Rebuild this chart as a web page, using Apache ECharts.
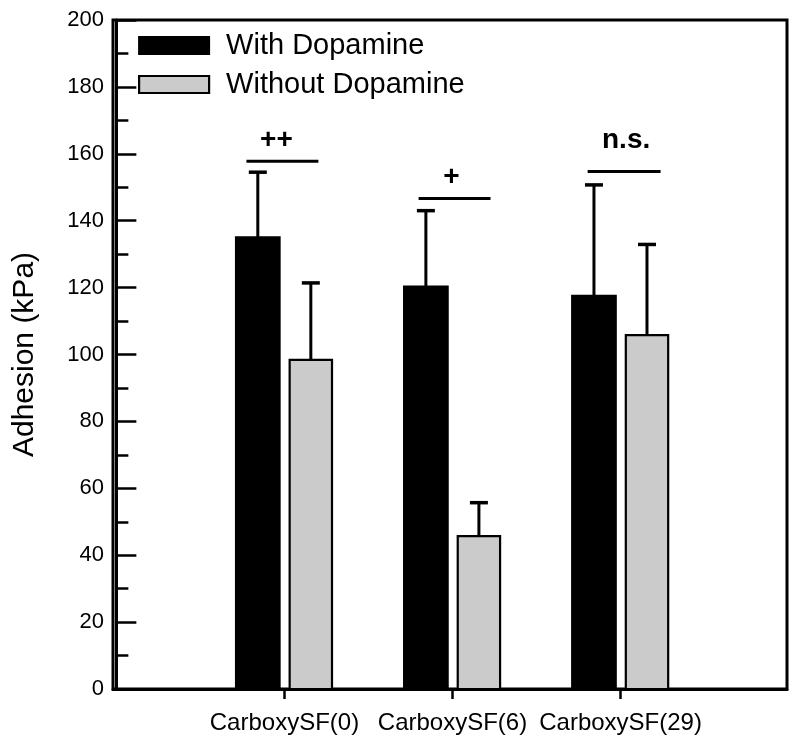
<!DOCTYPE html>
<html>
<head>
<meta charset="utf-8">
<script src="https://cdn.jsdelivr.net/npm/echarts@6/dist/echarts.min.js"></script>
<style>
  html, body { margin: 0; padding: 0; background: #fff; }
  #chart { width: 800px; height: 749px; }
</style>
</head>
<body>
<div id="chart"></div>
<script>
// ---- data ----
const categories = ['CarboxySF(0)', 'CarboxySF(6)', 'CarboxySF(29)'];
const withDopamine = [135.0, 120.3, 117.5];
const withDopamineSD = [19.5, 22.7, 33.2];
const withoutDopamine = [98.4, 45.7, 105.8];
const withoutDopamineSD = [23.0, 10.0, 27.1];
const sigLabels = ['++', '+', 'n.s.'];
const sigHeights = [157.8, 146.6, 154.7];

// ---- layout (not data) ----
const withSpan = [-0.288, -0.029];
const withoutSpan = [0.031, 0.283];
const sigSpans = [[-0.226, 0.202], [-0.202, 0.226], [-0.196, 0.238]];
const sigLabelDx = [-6, -3, 2];
const sigLabelDy = [-21, -21, -31];
const FONT = '"Liberation Sans", Arial, sans-serif';

function barRenderer(span, fill) {
  return function (params, api) {
    const x = api.value(0), v = api.value(1), sd = api.value(2);
    const pL = api.coord([x + span[0], v]);
    const pR = api.coord([x + span[1], 0]);
    const top = pL[1], base = pR[1];
    const cx = (pL[0] + pR[0]) / 2;
    const errTop = api.coord([x, v + sd])[1];
    return {
      type: 'group',
      children: [
        { type: 'line', shape: { x1: cx, y1: top, x2: cx, y2: errTop }, style: { stroke: '#000', lineWidth: 3 } },
        { type: 'line', shape: { x1: cx - 9, y1: errTop, x2: cx + 9, y2: errTop }, style: { stroke: '#000', lineWidth: 3.5 } },
        { type: 'rect', shape: { x: pL[0], y: top, width: pR[0] - pL[0], height: base - top },
          style: { fill: fill, stroke: '#000', lineWidth: 2.2 } }
      ]
    };
  };
}

function sigRenderer(params, api) {
  const i = params.dataIndex;
  const x = api.value(0), h = api.value(1);
  const p1 = api.coord([x + sigSpans[i][0], h]);
  const p2 = api.coord([x + sigSpans[i][1], h]);
  const cx = (p1[0] + p2[0]) / 2;
  return {
    type: 'group',
    children: [
      { type: 'line', shape: { x1: p1[0], y1: p1[1], x2: p2[0], y2: p2[1] }, style: { stroke: '#000', lineWidth: 3 } },
      { type: 'text', style: { text: sigLabels[i], x: cx + sigLabelDx[i], y: p1[1] + sigLabelDy[i],
          align: 'center', verticalAlign: 'middle', fill: '#000',
          fontSize: 28, fontWeight: 'bold', fontFamily: FONT } }
    ]
  };
}

const chart = echarts.init(document.getElementById('chart'), null, { renderer: 'canvas' });
chart.setOption({
  animation: false,
  backgroundColor: '#fff',
  textStyle: { fontFamily: FONT, color: '#000' },
  grid: { left: 113, right: 13, top: 20, bottom: 60, show: true, borderColor: '#000', borderWidth: 3, backgroundColor: 'transparent' },
  legend: {
    orient: 'vertical', left: 138, top: 31, padding: 0, itemWidth: 70, itemHeight: 17, itemGap: 10,
    textStyle: { fontSize: 29, color: '#000', fontFamily: FONT, padding: [0, 0, 0, 12] },
    data: [
      { name: 'With Dopamine', icon: 'rect', itemStyle: { color: '#000', borderColor: '#000', borderWidth: 2 } },
      { name: 'Without Dopamine', icon: 'rect', itemStyle: { color: '#cbcbcb', borderColor: '#000', borderWidth: 2.2 } }
    ]
  },
  xAxis: {
    type: 'value', min: -0.02, max: 3.99,
    splitLine: { show: false },
    axisLine: { show: true, lineStyle: { color: '#000', width: 3 } },
    axisTick: { show: true, inside: false, length: 10, customValues: [1, 2, 3], lineStyle: { color: '#000', width: 2.5 } },
    axisLabel: { show: true, customValues: [1, 2, 3], margin: 22, fontSize: 24, color: '#000', fontFamily: FONT,
      formatter: function (v) { return categories[Math.round(v) - 1] || ''; } }
  },
  yAxis: {
    type: 'value', min: 0, max: 200, interval: 20,
    name: 'Adhesion (kPa)', nameLocation: 'middle', nameRotate: 90, nameGap: 73,
    nameTextStyle: { fontSize: 30, color: '#000', fontFamily: FONT },
    splitLine: { show: false },
    axisLine: { show: true, lineStyle: { color: '#000', width: 3 } },
    axisTick: { show: true, inside: true, length: 20, lineStyle: { color: '#000', width: 2.5 } },
    minorTick: { show: true, splitNumber: 2, length: 12, lineStyle: { color: '#000', width: 2.5 } },
    axisLabel: { fontSize: 22, color: '#000', margin: 9, fontFamily: FONT }
  },
  series: [
    { name: 'With Dopamine', type: 'custom', renderItem: barRenderer(withSpan, '#000'),
      itemStyle: { color: '#000' },
      data: categories.map((c, i) => [i + 1, withDopamine[i], withDopamineSD[i]]), z: 3 },
    { name: 'Without Dopamine', type: 'custom', renderItem: barRenderer(withoutSpan, '#cbcbcb'),
      itemStyle: { color: '#cbcbcb' },
      data: categories.map((c, i) => [i + 1, withoutDopamine[i], withoutDopamineSD[i]]), z: 3 },
    { name: 'sig', type: 'custom', renderItem: sigRenderer,
      data: categories.map((c, i) => [i + 1, sigHeights[i]]), z: 4 }
  ]
});
</script>
</body>
</html>
